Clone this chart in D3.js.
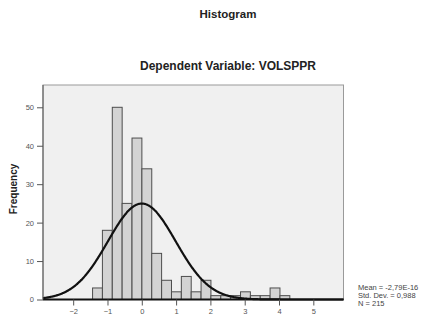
<!DOCTYPE html>
<html>
<head>
<meta charset="utf-8">
<script src="https://cdn.jsdelivr.net/npm/d3@7"></script>
<style>
  html, body { margin: 0; padding: 0; background: #ffffff; }
  svg { display: block; }
</style>
</head>
<body>
<svg id="chart" width="422" height="320"></svg>
<script>
// ---- data ----
const binLowerEdges = [-1.435, -1.148, -0.86, -0.573, -0.285, 0.003, 0.29, 0.578, 0.865, 1.153,
                       1.44, 1.728, 2.015, 2.303, 2.59, 2.878, 3.165, 3.453, 3.74, 4.028];
const binWidth = 0.2875;
const binCounts = [3, 18, 50, 25, 42, 34, 12, 5, 2, 6,
                   2, 5, 1, 1, 1, 2, 1, 1, 3, 1];
const xTicks = [-2, -1, 0, 1, 2, 3, 4, 5];
const yTicks = [0, 10, 20, 30, 40, 50];
const xDomain = [-2.88, 5.88];
const yDomain = [0, 55.8];
const fitMean = 0;
const fitSd = 0.988;
const fitN = 215;
const statLines = ["Mean = -2,79E-16", "Std. Dev. = 0,988", "N = 215"];
const mainTitle = "Histogram";
const subTitle = "Dependent Variable: VOLSPPR";
const yTitle = "Frequency";

// ---- layout ----
const L = 43, R = 343.5, T = 85, B = 299.5;
const svg = d3.select("#chart");
const font = "'Liberation Sans', Arial, sans-serif";

const x = d3.scaleLinear().domain(xDomain).range([L, R]);
const y = d3.scaleLinear().domain(yDomain).range([B, T]);

// titles
svg.append("text").attr("x", 228).attr("y", 18).attr("text-anchor", "middle")
  .attr("font-family", font).attr("font-weight", "bold").attr("font-size", 11.5)
  .attr("fill", "#222").text(mainTitle);
svg.append("text").attr("x", 228).attr("y", 70).attr("text-anchor", "middle")
  .attr("font-family", font).attr("font-weight", "bold").attr("font-size", 12)
  .attr("fill", "#222").text(subTitle);

// plot background + frame
svg.append("rect").attr("x", L).attr("y", T).attr("width", R - L).attr("height", B - T)
  .attr("fill", "#f0f0f0").attr("stroke", "#9a9a9a").attr("stroke-width", 1);

// bars
const bars = binLowerEdges.map((e, i) => ({ x0: e, x1: e + binWidth, n: binCounts[i] }));
svg.append("g").selectAll("rect").data(bars).join("rect")
  .attr("x", d => x(d.x0))
  .attr("y", d => y(d.n))
  .attr("width", d => x(d.x1) - x(d.x0))
  .attr("height", d => y(0) - y(d.n))
  .attr("fill", "#d3d3d3")
  .attr("stroke", "#4d4d4d")
  .attr("stroke-width", 1);

// normal curve
const pdf = v => Math.exp(-0.5 * Math.pow((v - fitMean) / fitSd, 2)) / (fitSd * Math.sqrt(2 * Math.PI));
const curvePts = d3.range(xDomain[0], xDomain[1] + 0.001, 0.02).map(v => [v, fitN * binWidth * pdf(v)]);
svg.append("path").datum(curvePts)
  .attr("d", d3.line().x(d => x(d[0])).y(d => y(d[1])).curve(d3.curveBasis))
  .attr("fill", "none").attr("stroke", "#111").attr("stroke-width", 2.2);

// axes
const xAxis = svg.append("g").attr("transform", `translate(0,${B})`)
  .call(d3.axisBottom(x).tickValues(xTicks).tickSize(6).tickPadding(3).tickFormat(d3.format("d")));
xAxis.select(".domain").attr("stroke", "#111").attr("stroke-width", 2).attr("d", `M${L},0H${R}`);
xAxis.selectAll(".tick line").attr("stroke", "#555");
xAxis.selectAll(".tick text").attr("font-family", font).attr("font-size", 7.5).attr("fill", "#555");

const yAxis = svg.append("g").attr("transform", `translate(${L},0)`)
  .call(d3.axisLeft(y).tickValues(yTicks).tickSize(6).tickPadding(3));
yAxis.select(".domain").attr("stroke", "#555").attr("stroke-width", 1).attr("d", `M0,${T}V${B}`);
yAxis.selectAll(".tick line").attr("stroke", "#555");
yAxis.selectAll(".tick text").attr("font-family", font).attr("font-size", 7.5).attr("fill", "#555");

// y title
svg.append("text").attr("transform", "translate(16.5,189) rotate(-90)")
  .attr("text-anchor", "middle").attr("font-family", font).attr("font-weight", "bold")
  .attr("font-size", 10).attr("fill", "#222").text(yTitle);

// stats
svg.append("g").selectAll("text").data(statLines).join("text")
  .attr("x", 358).attr("y", (d, i) => 290 + i * 8)
  .attr("font-family", font).attr("font-size", 7.5).attr("fill", "#444")
  .text(d => d);
</script>
</body>
</html>
